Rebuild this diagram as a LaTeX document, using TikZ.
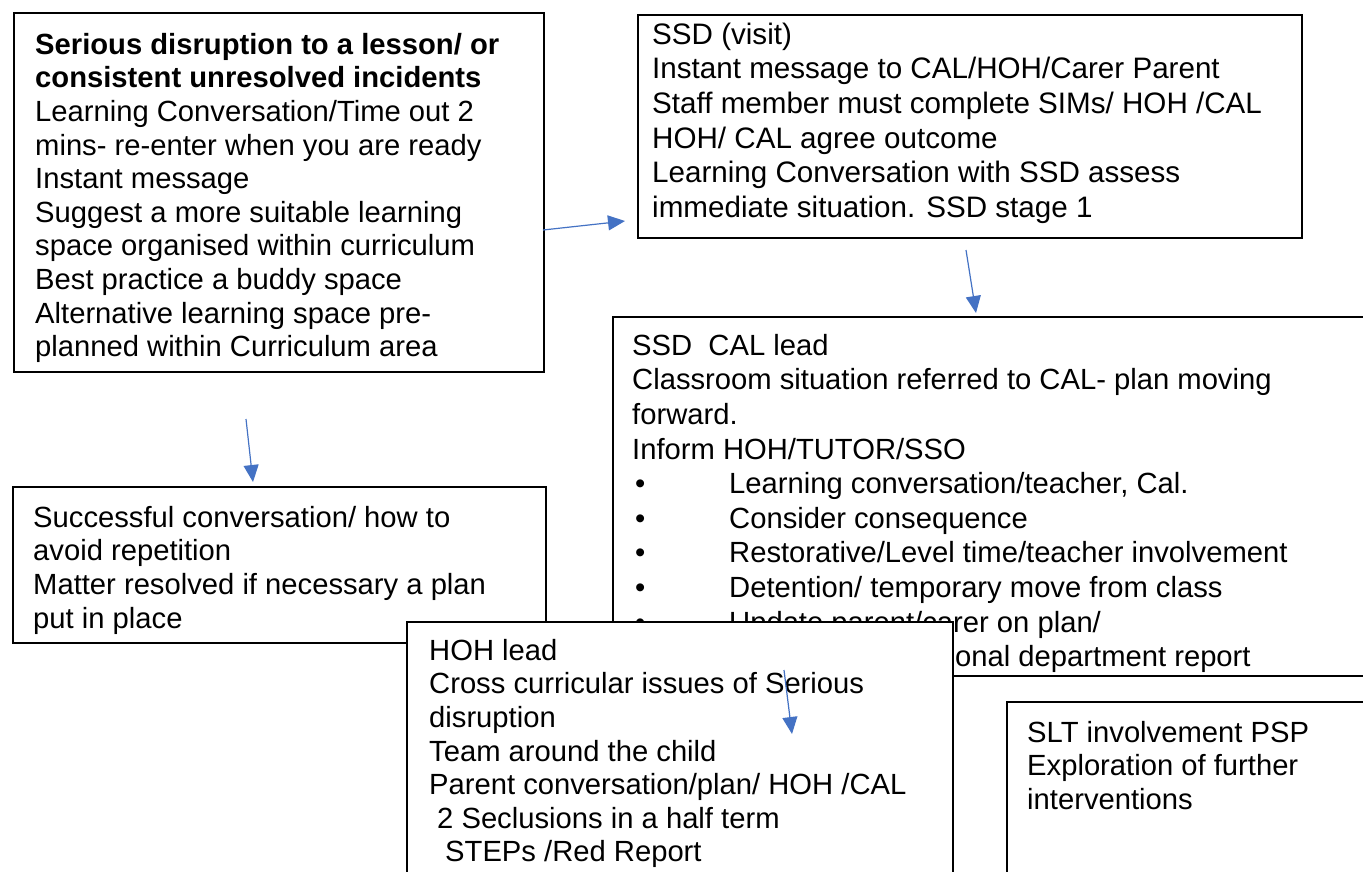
\documentclass[tikz,border=0pt]{standalone}
\usepackage{fontspec}
\setmainfont{Liberation Sans}
\usetikzlibrary{arrows.meta}
\definecolor{arrowblue}{RGB}{68,114,196}
\begin{document}
\begin{tikzpicture}[x=1pt,y=-1pt,
  box/.style={draw=black,line width=1.5pt,fill=white,anchor=north west,inner sep=0pt},
  txt/.style={anchor=north west,inner sep=0pt,align=left,font={\fontsize{29.2pt}{33.6pt}\selectfont}},
  txtw/.style={anchor=north west,inner sep=0pt,align=left,font={\fontsize{29.2pt}{34.6pt}\selectfont}},
  txtv/.style={anchor=north west,inner sep=0pt,align=left,font={\fontsize{29.6pt}{34.6pt}\selectfont}},
  flow/.style={draw=arrowblue,line width=1.2pt,-{Triangle[length=17pt,width=15pt]}}]
\clip (0,0) rectangle (1363,871);
\fill[white] (0,0) rectangle (1363,871);
\def\st{\rule{0pt}{23pt}}
% Box 1
\node[box,minimum width=530pt,minimum height=359pt] (b1) at (13,12) {};
\node[txt] (t1) at (35,31) {\st\textbf{Serious disruption to a lesson/ or}\\
\textbf{consistent unresolved incidents}\\
Learning Conversation/Time out 2\\
mins- re-enter when you are ready\\
Instant message\\
Suggest a more suitable learning\\
space organised within curriculum\\
Best practice a buddy space\\
Alternative learning space pre-\\
planned within Curriculum area};
% Box 2
\node[box,minimum width=664pt,minimum height=223pt] (b2) at (637,14) {};
\node[txtv] (t2) at (652,21) {\st SSD (visit)\\
Instant message to CAL/HOH/Carer Parent\\
Staff member must complete SIMs/ HOH /CAL\\
HOH/ CAL agree outcome\\
Learning Conversation with SSD assess\\
immediate situation. SSD stage 1};
% Box 3
\node[box,minimum width=800pt,minimum height=359pt] (b3) at (612,316) {};
\node[txtw] (t3) at (632,332) {\st SSD\ \ CAL lead\\
Classroom situation referred to CAL- plan moving\\
forward.\\
Inform HOH/TUTOR/SSO\\
\makebox[97pt][l]{\hspace*{3pt}•}Learning conversation/teacher, Cal.\\
\makebox[97pt][l]{\hspace*{3pt}•}Consider consequence\\
\makebox[97pt][l]{\hspace*{3pt}•}Restorative/Level time/teacher involvement\\
\makebox[97pt][l]{\hspace*{3pt}•}Detention/ temporary move from class\\
\makebox[97pt][l]{\hspace*{3pt}•}Update parent/carer on plan/\\
\makebox[323pt][l]{}onal department report};
% Box 4
\node[box,minimum width=533pt,minimum height=156pt] (b4) at (12,486) {};
\node[txt] (t4) at (33,504) {\st Successful conversation/ how to\\
avoid repetition\\
Matter resolved if necessary a plan\\
put in place};
% Box 5
\node[box,minimum width=546pt,minimum height=300pt] (b5) at (406,621) {};
\node[txt] (t5) at (429,637) {\st HOH lead\\
Cross curricular issues of Serious\\
disruption\\
Team around the child\\
Parent conversation/plan/ HOH /CAL\\
\hspace*{8pt}2 Seclusions in a half term\\
\hspace*{16pt}STEPs /Red Report};
% Box 6
\node[box,minimum width=450pt,minimum height=250pt] (b6) at (1006,701) {};
\node[txt] (t6) at (1027,719) {\st SLT involvement PSP\\
Exploration of further\\
interventions};
% Connectors
\coordinate (a1s) at (543,230);
\coordinate (a1e) at (625,221);
\coordinate (a2s) at (966,250);
\coordinate (a2e) at (976,313);
\coordinate (a3s) at (246,419);
\coordinate (a3e) at (253,482);
\coordinate (a4s) at (784,670);
\coordinate (a4e) at (792,734);
\draw[flow] (a1s) -- (a1e);
\draw[flow] (a2s) -- (a2e);
\draw[flow] (a3s) -- (a3e);
\draw[flow] (a4s) -- (a4e);
\end{tikzpicture}
\end{document}
